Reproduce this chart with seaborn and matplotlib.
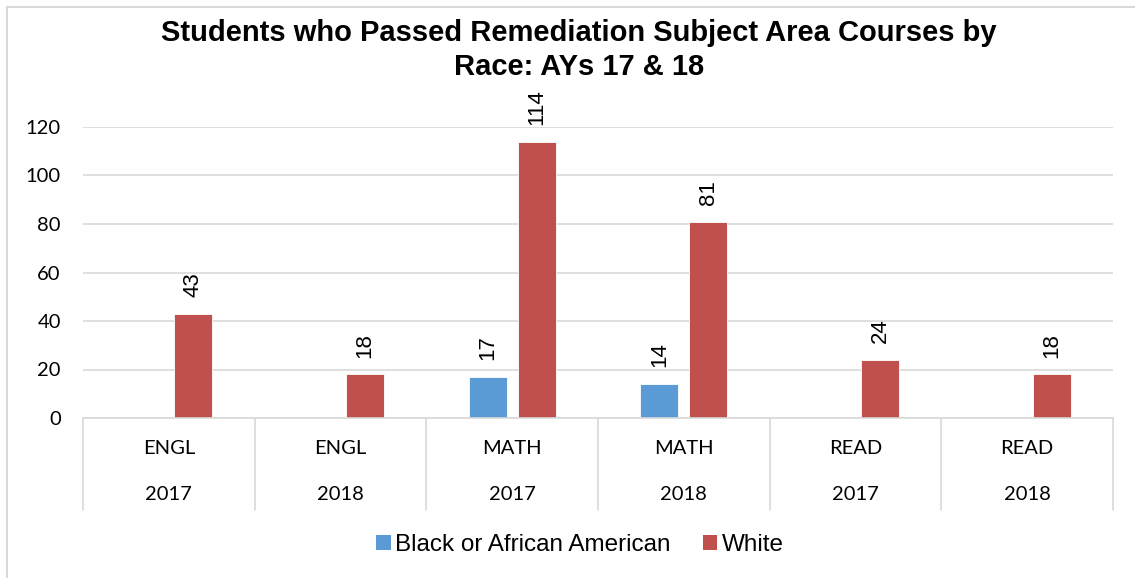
import matplotlib
matplotlib.use("Agg")
import matplotlib.pyplot as plt
import seaborn as sns
import pandas as pd
from matplotlib.patches import Patch
from matplotlib.lines import Line2D

# ---- data ----
subjects = ["ENGL", "ENGL", "MATH", "MATH", "READ", "READ"]
years = ["2017", "2018", "2017", "2018", "2017", "2018"]
races = ["Black or African American", "White"]
black_values = [None, None, 17, 14, None, None]
white_values = [43, 18, 114, 81, 24, 18]
y_ticks = [0, 20, 40, 60, 80, 100, 120]
title = "Students who Passed Remediation Subject Area Courses by\nRace: AYs 17 & 18"

colors = {"Black or African American": "#5B9BD5", "White": "#C0504D"}

keys = [f"{s}|{y}" for s, y in zip(subjects, years)]
rows = []
for k, b, w in zip(keys, black_values, white_values):
    if b is not None:
        rows.append({"cat": k, "race": races[0], "value": b})
    if w is not None:
        rows.append({"cat": k, "race": races[1], "value": w})
df = pd.DataFrame(rows)

sns.set_style("white")
plt.rcParams["text.color"] = "#000000"
W, H = 1135, 578
fig = plt.figure(figsize=(W / 100, H / 100), dpi=100)
ax = fig.add_axes([83 / W, (H - 418) / H, (1113 - 83) / W, (418 - 127) / H])

sns.barplot(data=df, x="cat", y="value", hue="race", order=keys, hue_order=races,
            palette=colors, saturation=1, width=0.57, gap=0.22, dodge=True, ax=ax,
            edgecolor="white", linewidth=0.6, legend=False, errorbar=None)

ax.set_xlim(-0.5, len(keys) - 0.5)
ax.set_ylim(0, 120)
ax.set_yticks(y_ticks)
ax.set_yticklabels([str(t) for t in y_ticks], fontfamily="Lato", fontsize=14.5, color="#000000")
ax.tick_params(axis="y", length=0, pad=16)
ax.set_xticks([])
ax.set_xlabel("")
ax.set_ylabel("")
ax.grid(axis="y", color="#d9d9d9", linewidth=1.2)
ax.set_axisbelow(True)
for sp in ["top", "right", "left"]:
    ax.spines[sp].set_visible(False)
ax.spines["bottom"].set_color("#d9d9d9")
ax.spines["bottom"].set_linewidth(1.2)

# data labels
for container in ax.containers:
    for bar in container:
        h = bar.get_height()
        if h is None or pd.isna(h) or h == 0:
            continue
        ax.annotate(f"{int(round(h))}", (bar.get_x() + bar.get_width() / 2, h),
                    xytext=(0, 12), textcoords="offset points", rotation=90,
                    ha="center", va="bottom", fontsize=16, fontfamily="Liberation Sans",
                    color="#000000")

# multi-level category axis
tr = ax.get_xaxis_transform()
ah = 418 - 127
for i, (s, y) in enumerate(zip(subjects, years)):
    ax.text(i, -(449 - 418) / ah, s, transform=tr, ha="center", va="center",
            fontsize=14.5, fontfamily="Lato", color="#000000")
    ax.text(i, -(495 - 418) / ah, y, transform=tr, ha="center", va="center",
            fontsize=14.5, fontfamily="Lato", color="#000000")
for xb in [i - 0.5 for i in range(len(keys) + 1)]:
    ax.add_line(Line2D([xb, xb], [0, -(510 - 418) / ah], transform=tr,
                       color="#d9d9d9", linewidth=1.2, clip_on=False))

# title
fig.text(579 / W, (H - 50) / H, title, ha="center", va="center", fontsize=21,
         fontweight="bold", fontfamily="Liberation Sans", linespacing=1.3, color="#000000")

# legend
handles = [Patch(facecolor=colors[r], edgecolor="none", label=r) for r in races]
fig.legend(handles=handles, loc="center", bbox_to_anchor=(580 / W, (H - 545) / H),
           ncol=2, frameon=False, prop={"family": "Liberation Sans", "size": 17.5},
           handlelength=0.6, handleheight=0.6, handletextpad=0.2, columnspacing=1.3)

# chart border (top and left visible)
fig.add_artist(Line2D([7 / W, 1], [(H - 7) / H, (H - 7) / H], transform=fig.transFigure,
                      color="#d9d9d9", linewidth=1.5))
fig.add_artist(Line2D([7 / W, 7 / W], [0, (H - 7) / H], transform=fig.transFigure,
                      color="#d9d9d9", linewidth=1.5))

fig.savefig("out.png", dpi=100, facecolor="white")
